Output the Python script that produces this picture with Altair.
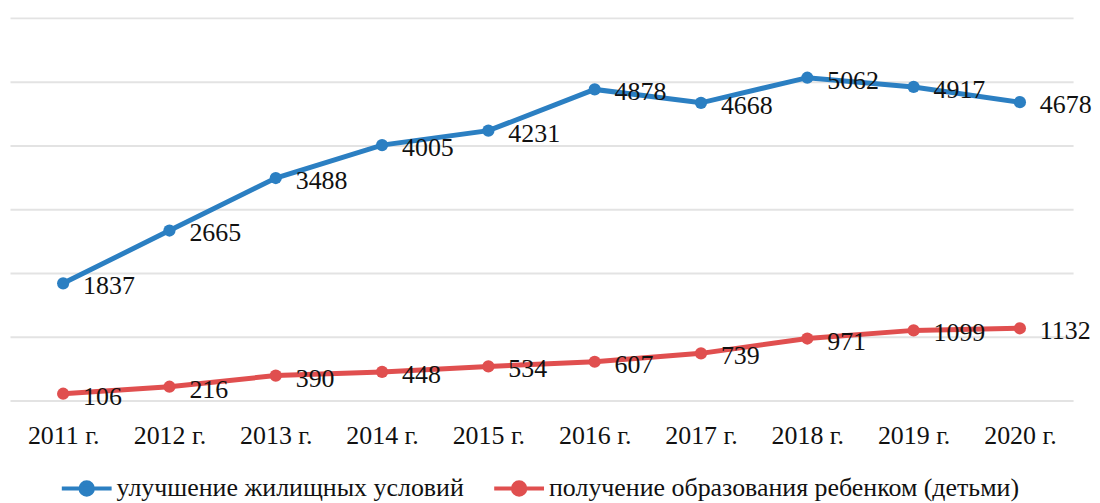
import altair as alt
import pandas as pd

years = ["2011 г.", "2012 г.", "2013 г.", "2014 г.", "2015 г.", "2016 г.", "2017 г.", "2018 г.", "2019 г.", "2020 г."]
housing = [1837, 2665, 3488, 4005, 4231, 4878, 4668, 5062, 4917, 4678]
education = [106, 216, 390, 448, 534, 607, 739, 971, 1099, 1132]
series_names = ["улучшение жилищных условий", "получение образования ребенком (детьми)"]
series_colors = ["#2b7fc2", "#e04f4f"]

rows = []
for y, v in zip(years, housing):
    rows.append({"year": y, "value": v, "series": series_names[0]})
for y, v in zip(years, education):
    rows.append({"year": y, "value": v, "series": series_names[1]})
df = pd.DataFrame(rows)

FONT = "'Liberation Serif', 'Times New Roman', 'DejaVu Serif', serif"
FS = 26

x = alt.X("year:N", sort=years, title=None,
          scale=alt.Scale(paddingInner=0, paddingOuter=0.5),
          axis=alt.Axis(labelAngle=0, labelFont=FONT, labelFontSize=FS, labelColor="#111111",
                        ticks=False, domain=False, labelPadding=22, grid=False))
y = alt.Y("value:Q", title=None,
          scale=alt.Scale(domain=[0, 6000]),
          axis=alt.Axis(values=[0, 1000, 2000, 3000, 4000, 5000, 6000], labels=False, ticks=False,
                        domain=False, grid=True, gridColor="#e3e3e3", gridWidth=2))

color = alt.Color("series:N", sort=series_names,
                  scale=alt.Scale(domain=series_names, range=series_colors),
                  legend=alt.Legend(title=None, orient="none", direction="horizontal",
                                    legendX=50, legendY=445,
                                    labelFont=FONT, labelFontSize=FS, labelColor="#111111",
                                    symbolType="M-1,0L1,0M0.25,0A0.25,0.25,0,1,1,-0.25,0A0.25,0.25,0,1,1,0.25,0Z",
                                    symbolSize=2500, symbolStrokeWidth=4, labelOffset=3,
                                    columnPadding=22, labelLimit=700))

base = alt.Chart(df).encode(x=x, y=y, color=color)

lines = base.mark_line(strokeWidth=5)
points = base.mark_point(filled=True, size=150, opacity=1)
labels = base.mark_text(align="left", baseline="middle", dx=20, dy=3,
                        font=FONT, fontSize=FS, color="#111111").encode(
    text=alt.Text("value:Q", format="d"), color=alt.value("#111111"))

chart = alt.layer(lines, points, labels).properties(
    width=1067, height=384,
    padding={"left": 2, "top": 9, "right": 0, "bottom": 0},
    background="white",
).configure_view(stroke=None)

chart.save("out.html", embed_options={"renderer": "svg", "actions": False})
